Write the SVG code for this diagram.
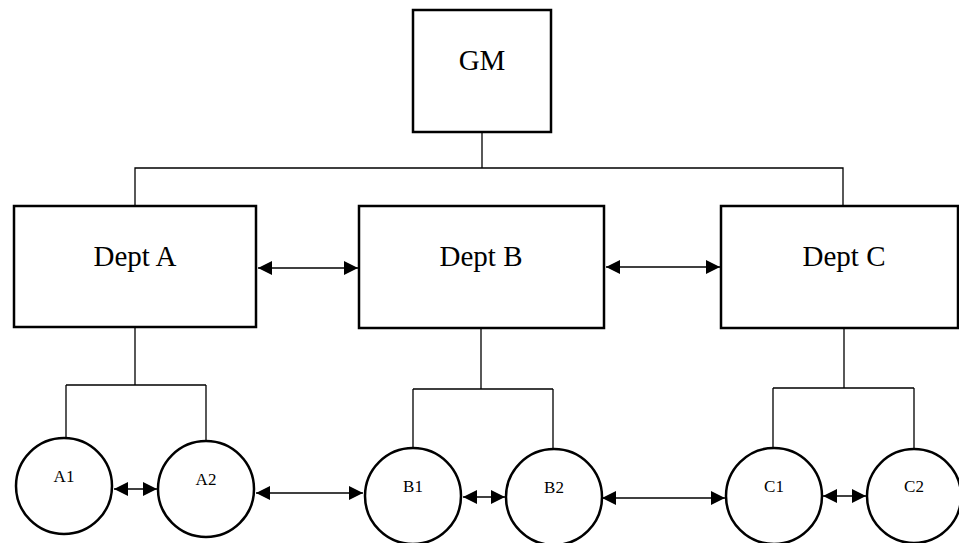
<svg xmlns="http://www.w3.org/2000/svg" width="959" height="543" viewBox="0 0 959 543">
<defs>
<style>
.box{fill:#fff;stroke:#000;stroke-width:2.5}
.circ{fill:#fff;stroke:#000;stroke-width:2.5}
.ln{fill:none;stroke:#000;stroke-width:1.3}
.ar{fill:none;stroke:#000;stroke-width:1.3;marker-start:url(#ah);marker-end:url(#ah)}
.big{font-family:"Liberation Serif","Times New Roman",serif;font-size:29px;text-anchor:middle;fill:#000}
.sm{font-family:"Liberation Serif","Times New Roman",serif;font-size:17px;text-anchor:middle;fill:#000}
</style>
<marker id="ah" viewBox="0 0 10 10" refX="10" refY="5" markerWidth="14" markerHeight="14" markerUnits="userSpaceOnUse" orient="auto-start-reverse">
<path d="M0,0 L10,5 L0,10 Z" fill="#000"/>
</marker>
</defs>
<rect width="959" height="543" fill="#fff"/>
<g id="connectors">
<path class="ln" d="M482,132 V168 M135,206 V168 H843 V206"/>
<path class="ln" d="M135,328 V385 M66,385 H206 M66,385 V439 M206,385 V442"/>
<path class="ln" d="M481,328 V389 M413,389 H553 M413,389 V448 M553,389 V448"/>
<path class="ln" d="M844,328 V388 M773,388 H914 M773,388 V447 M914,388 V448"/>
<line class="ar" x1="258" y1="268" x2="358" y2="268"/>
<line class="ar" x1="606" y1="267" x2="720" y2="267"/>
<line class="ar" x1="114" y1="489" x2="157" y2="489"/>
<line class="ar" x1="256" y1="493" x2="363" y2="493"/>
<line class="ar" x1="463" y1="497" x2="505" y2="497"/>
<line class="ar" x1="602" y1="498" x2="725" y2="498"/>
<line class="ar" x1="823" y1="496" x2="866" y2="496"/>
</g>
<g id="gm"><rect class="box" x="413" y="10" width="138" height="122"/><text class="big" x="482" y="70">GM</text></g>
<g id="deptA"><rect class="box" x="14" y="206" width="242" height="121"/><text class="big" x="135" y="266">Dept A</text></g>
<g id="deptB"><rect class="box" x="359" y="206" width="245" height="122"/><text class="big" x="481" y="266">Dept B</text></g>
<g id="deptC"><rect class="box" x="721" y="206" width="237" height="122"/><text class="big" x="844" y="266">Dept C</text></g>
<g id="a1"><circle class="circ" cx="64" cy="486" r="48"/><text class="sm" x="64" y="482">A1</text></g>
<g id="a2"><circle class="circ" cx="206" cy="489" r="48"/><text class="sm" x="206" y="485">A2</text></g>
<g id="b1"><circle class="circ" cx="413" cy="496" r="48"/><text class="sm" x="413" y="492">B1</text></g>
<g id="b2"><circle class="circ" cx="554" cy="497" r="48"/><text class="sm" x="554" y="493">B2</text></g>
<g id="c1"><circle class="circ" cx="774" cy="496" r="48"/><text class="sm" x="774" y="492">C1</text></g>
<g id="c2"><circle class="circ" cx="914" cy="496" r="47"/><text class="sm" x="914" y="492">C2</text></g>
</svg>
